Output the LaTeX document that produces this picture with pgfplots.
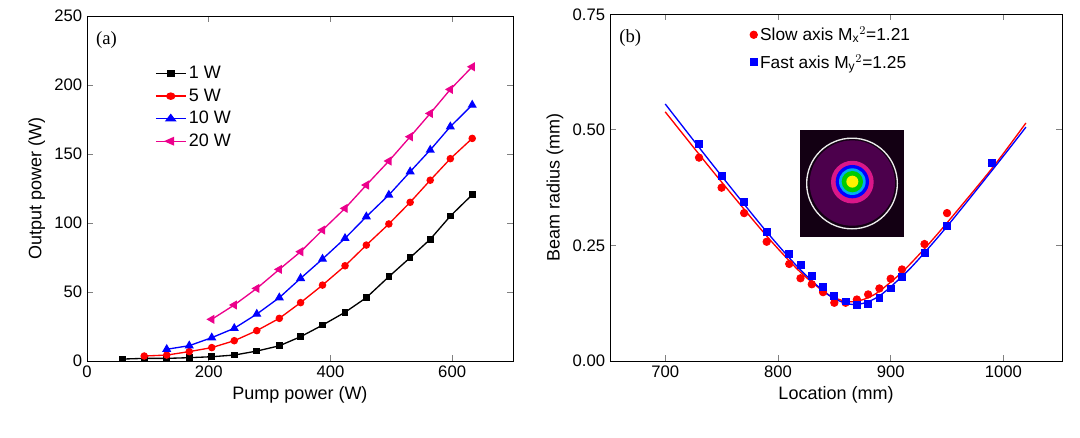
\documentclass[border=0pt]{standalone}
\usepackage{pgfplots}
\pgfplotsset{compat=1.18}
\usepackage{fontspec}
\setmainfont{Liberation Sans}
\newfontfamily\serif{Liberation Serif}
\begin{document}
\begin{tikzpicture}
\path[use as bounding box] (-65.25pt,-57.75pt) rectangle (744.75pt,270.75pt);
\pgfplotsset{every axis/.style={scale only axis, /pgf/number format/assume math mode=true,
  /pgf/number format/1000 sep={},
  tick label style={font=\fontsize{12.5}{14}\selectfont}, label style={font=\fontsize{13.5}{15}\selectfont},
  tick align=inside, line width=0.6pt, tick style={line width=0.6pt}}}
\begin{axis}[at={(0pt,0pt)},anchor=south west,width=319.5pt,height=258.75pt,
  xmin=0,xmax=700,ymin=0,ymax=250,xtick={0,200,400,600},ytick={0,50,100,150,200,250},
  xlabel={Pump power (W)},ylabel={Output power (W)},
  legend style={draw=none,fill=none,at={(0.15,0.87)},anchor=north west,font=\fontsize{13.5}{15}\selectfont,row sep=2pt},
  legend image post style={xscale=1.3},
  legend cell align=left, every axis plot/.append style={line width=1pt,mark size=2.3pt}]
\addplot[black,mark=square*,mark size=2pt] coordinates {(58,1.4)(94,1.9)(131,1.9)(168,2.4)(205,3.1)(242,4.3)(279,7.2)(316,11)(351,17.6)(387,26)(424,35.3)(459,45.9)(496,61.1)(531,74.9)(564,88.2)(597,105)(633,120.5)};
\addlegendentry{1 W}
\addplot[red,mark=*] coordinates {(94,3.6)(131,4.3)(168,6.8)(205,9.7)(242,14.7)(279,22)(316,30.9)(351,42.3)(387,55)(424,69)(459,84)(496,99.3)(531,115)(564,131)(597,146.6)(633,161.3)};
\addlegendentry{5 W}
\addplot[blue,mark=triangle*,mark size=3pt] coordinates {(131,8.5)(168,11.1)(205,16.9)(242,23.7)(279,34)(316,45.9)(351,59.9)(387,73.9)(424,88.9)(459,104.6)(496,120.3)(531,137.2)(564,152.9)(597,169.8)(633,185.5)};
\addlegendentry{10 W}
\addplot[magenta,mark=triangle*,mark size=3pt,mark options={rotate=90}] coordinates {(205,30.2)(242,40.6)(279,52.6)(316,66.4)(351,79.2)(387,94.9)(424,110.6)(459,127.5)(496,144.9)(531,162.5)(564,179.4)(597,196.8)(633,213.2)};
\addlegendentry{20 W}
\node[anchor=north west,font=\serif\fontsize{14}{16}\selectfont] at (rel axis cs:0.01,0.97) {(a)};
\end{axis}
\begin{axis}[at={(392.25pt,0pt)},anchor=south west,width=339pt,height=260pt,
  xmin=651,xmax=1052,ymin=0,ymax=0.75,xtick={700,800,900,1000},ytick={0,0.25,0.5,0.75},
  yticklabel style={/pgf/number format/.cd,fixed,fixed zerofill,precision=2},
  xlabel={Location (mm)},ylabel={Beam radius (mm)},
  legend style={draw=none,fill=none,at={(0.3,0.98)},anchor=north west,font=\fontsize{13}{15}\selectfont,row sep=5pt},
  legend cell align=left]
\addplot[red,only marks,mark=*,mark size=2.8pt] coordinates {(730,0.44)(750,0.375)(770,0.32)(790,0.258)(810,0.21)(820,0.179)(830,0.166)(840,0.149)(850,0.126)(860,0.126)(870,0.133)(880,0.144)(890,0.157)(900,0.178)(910,0.198)(930,0.253)(950,0.32)(990,0.428)};
\addlegendentry{Slow axis M$_\mathrm{x}{}^{2}$=1.21}
\addplot[blue,only marks,mark=square*,mark size=2.6pt] coordinates {(730,0.47)(750,0.40)(770,0.345)(790,0.28)(810,0.232)(820,0.207)(830,0.184)(840,0.161)(850,0.141)(860,0.129)(870,0.121)(880,0.123)(890,0.137)(900,0.157)(910,0.181)(930,0.233)(950,0.293)(990,0.428)};
\addlegendentry{Fast axis M$_\mathrm{y}{}^{2}$=1.25}
\addplot[red,line width=1pt,smooth,forget plot] coordinates {(700,0.539)(740,0.417)(780,0.299)(800,0.243)(820,0.192)(840,0.151)(850,0.137)(860,0.129)(865,0.128)(870,0.129)(880,0.137)(890,0.151)(910,0.192)(930,0.243)(950,0.299)(990,0.417)(1020,0.515)};
\addplot[blue,line width=1pt,smooth,forget plot] coordinates {(700,0.556)(740,0.431)(780,0.309)(800,0.251)(820,0.197)(840,0.152)(850,0.135)(860,0.125)(868,0.122)(876,0.125)(886,0.135)(896,0.152)(916,0.197)(936,0.251)(956,0.309)(996,0.431)(1020,0.506)};
\fill[black!85!violet] (axis cs:819.7,0.268) rectangle (axis cs:911.7,0.50);
\fill[violet!60!black] (axis cs:866,0.385) circle[radius=32pt];
\fill[magenta!80!violet] (axis cs:866,0.387) circle[radius=16pt];
\fill[blue] (axis cs:866,0.388) circle[radius=12.5pt];
\fill[cyan] (axis cs:866,0.388) circle[radius=10pt];
\fill[green!80!black] (axis cs:866,0.388) circle[radius=8pt];
\fill[yellow] (axis cs:866,0.388) circle[radius=4.5pt];
\draw[white!85!gray,line width=1pt] (axis cs:865.7,0.384) circle[radius=34pt];
\node[anchor=north west,font=\serif\fontsize{14}{16}\selectfont] at (rel axis cs:0.01,0.97) {(b)};
\end{axis}
\end{tikzpicture}
\end{document}
